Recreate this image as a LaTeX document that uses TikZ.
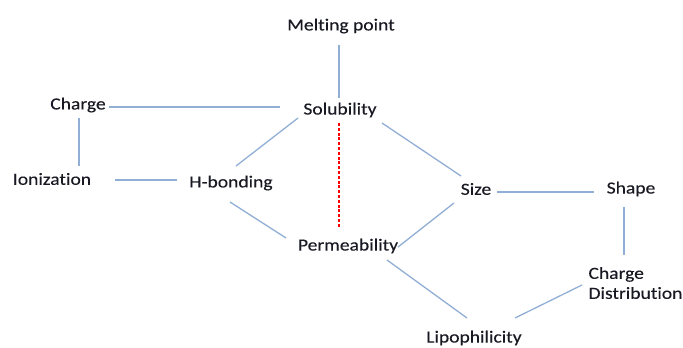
\documentclass[tikz,border=0pt]{standalone}
\usepackage{fontspec}
\setmainfont{Carlito}[FakeStretch=1.15, FakeBold=0.2, Ligatures={NoCommon}, RawFeature={-liga}]
\definecolor{edgeblue}{RGB}{145,175,213}
\definecolor{txt}{RGB}{25,25,35}
\begin{document}
\begin{tikzpicture}[x=1bp,y=-1bp,
  lbl/.style={inner sep=0pt, text=txt, font=\fontsize{17bp}{20bp}\selectfont},
  edge/.style={draw=edgeblue, line width=1.3bp},
  redge/.style={draw=red, line width=1.3bp, dash pattern=on 3bp off 1.8bp}]
\useasboundingbox[fill=white] (0,0) rectangle (683,347);
\node[lbl] (mp) at (341,26) {Melting point};
\node[lbl] (sol) at (340,110) {Solubility};
\node[lbl] (ch) at (78,105) {Charge};
\node[lbl] (ion) at (52,179) {Ionization};
\node[lbl] (hb) at (231,183) {H-bonding};
\node[lbl] (perm) at (348,246) {Permeability};
\node[lbl] (size) at (476,189) {Size};
\node[lbl] (shape) at (631,189) {Shape};
\node[lbl, align=left] (cd) at (635.5,283) {Charge\\Distribution};
\node[lbl] (lip) at (474,338) {Lipophilicity};
\draw[edge] ([shift={(-2,19)}]mp.center) -- ([shift={(-1,-12)}]sol.center);
\draw[edge] ([shift={(31,2)}]ch.center) -- ([shift={(-60,-3)}]sol.center);
\draw[edge] ([shift={(1,13)}]ch.center) -- ([shift={(27,-13)}]ion.center);
\draw[edge] ([shift={(63,1)}]ion.center) -- ([shift={(-54,-3)}]hb.center);
\draw[edge] ([shift={(-42,8)}]sol.center) -- ([shift={(5,-17)}]hb.center);
\draw[edge] ([shift={(-1,19)}]hb.center) -- ([shift={(-62,-8)}]perm.center);
\draw[redge] ([shift={(-1,13)}]sol.center) -- ([shift={(-9,-19)}]perm.center);
\draw[edge] ([shift={(42,13)}]sol.center) -- ([shift={(-15,-13)}]size.center);
\draw[edge] ([shift={(-22,14)}]size.center) -- ([shift={(50,1)}]perm.center);
\draw[edge] ([shift={(21,3)}]size.center) -- ([shift={(-37,3)}]shape.center);
\draw[edge] ([shift={(-7,18)}]shape.center) -- ([shift={(-11.5,-28)}]cd.center);
\draw[edge] ([shift={(-53.5,2)}]cd.center) -- ([shift={(41,-20)}]lip.center);
\draw[edge] ([shift={(39,14)}]perm.center) -- ([shift={(-7,-20)}]lip.center);
\end{tikzpicture}
\end{document}
